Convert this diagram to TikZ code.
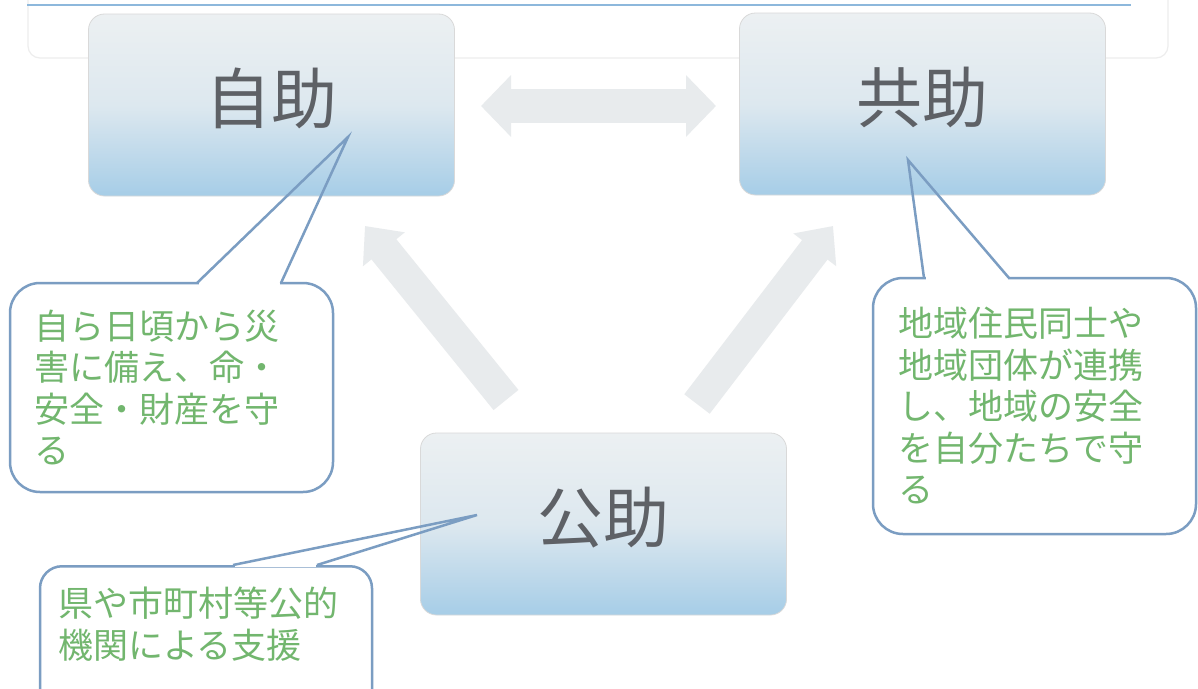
\documentclass[tikz,border=0pt]{standalone}
\usepackage{fontspec}
\setmainfont{Noto Sans CJK JP}
\usetikzlibrary{arrows.meta,calc}
\definecolor{labelgray}{HTML}{5E6166}
\definecolor{calltext}{HTML}{72B66E}
\definecolor{callborder}{HTML}{7B9DC2}
\definecolor{boxtop}{HTML}{ECF0F2}
\definecolor{boxmid}{HTML}{DDE8EF}
\definecolor{boxbot}{HTML}{A6CDE7}
\definecolor{arrowgray}{HTML}{E8EBED}
\definecolor{framegray}{HTML}{EDEDED}
\definecolor{titleblue}{HTML}{8DB8DC}
\begin{document}
\begin{tikzpicture}[x=1pt,y=-1pt,
  mainbox/.style={draw=gray!30, line width=0.8pt, rounded corners=16pt,
    top color=boxtop, bottom color=boxbot, middle color=boxmid,
    minimum width=366pt, minimum height=182pt, inner sep=0pt,
    text=labelgray, font=\fontsize{66}{70}\selectfont,
    text height=56pt, text depth=20pt},
  callout/.style={draw=callborder, line width=2.5pt, fill=white,
    rounded corners=30pt, align=left, text=calltext,
    font=\fontsize{35}{41.5}\selectfont, inner ysep=0pt},
  pointer/.style={draw=callborder, line width=2.5pt, line join=miter},
  bigarrow/.style={draw=arrowgray, line width=34pt},
  diagarrow/.style={draw=arrowgray, line width=32pt,
    -{Triangle[width=52pt,length=30pt]}}
]
\useasboundingbox (0,0) rectangle (1198,688);
\fill[white] (0,0) rectangle (1198,688);

% top frame and title rule
\draw[framegray, line width=1.2pt, rounded corners=12pt] (28,-30) rectangle (1168,58);
\draw[titleblue, line width=2.5pt] (27,5) -- (1131,5);

% arrows
\coordinate (dL) at (481,106);
\coordinate (dR) at (716,106);
\draw[bigarrow, {Triangle[width=60pt,length=30pt]}-{Triangle[width=60pt,length=30pt]}] (dL) -- (dR);
\coordinate (aL0) at (506,400);
\coordinate (aL1) at (365,226);
\coordinate (aR0) at (697,404);
\coordinate (aR1) at (833,226);
\draw[diagarrow] (aL0) -- (aL1);
\draw[diagarrow] (aR0) -- (aR1);

% main boxes
\node[mainbox] (jijo) at (271.5,105) {自助};
\node[mainbox] (kyojo) at (922.5,104) {共助};
\node[mainbox] (kojo) at (603.5,524) {公助};

% callouts
\node[callout, minimum width=323pt, minimum height=209pt, text width=275pt, inner xsep=24pt]
  (jcall) at (171.5,387.5) {自ら日頃から災\\害に備え、命・\\安全・財産を守\\る};
\node[callout, minimum width=323pt, minimum height=256pt, text width=273pt, inner xsep=25pt]
  (kcall) at (1034.5,406) {地域住民同士や\\地域団体が連携\\し、地域の安全\\を自分たちで守\\る};
\node[callout, rounded corners=22pt, anchor=north, minimum width=332pt, text width=296pt,
  inner xsep=18pt, inner ysep=21pt, text depth=100pt]
  (pcall) at (206,565) {県や市町村等公的\\機関による支援};

% pointers
\coordinate (jA) at (197,283);
\coordinate (jB) at (281,283);
\coordinate (jT) at (348,137);
\draw[white, line width=4pt] ($(jA)+(1.5,0)$) -- ($(jB)+(-1.5,0)$);
\draw[pointer] (jA) -- (jT) -- (jB);

\coordinate (kA) at (924,278);
\coordinate (kB) at (1009,278);
\coordinate (kT) at (908,160);
\draw[white, line width=4pt] ($(kA)+(1.5,0)$) -- ($(kB)+(-1.5,0)$);
\draw[pointer] (kA) -- (kT) -- (kB);

\coordinate (pA) at (233,565);
\coordinate (pB) at (317,565);
\coordinate (pT) at (477,515);
\draw[white, line width=4pt] ($(pA)+(1.5,0)$) -- ($(pB)+(-1.5,0)$);
\draw[pointer] (pA) -- (pT) -- (pB);
\end{tikzpicture}
\end{document}
